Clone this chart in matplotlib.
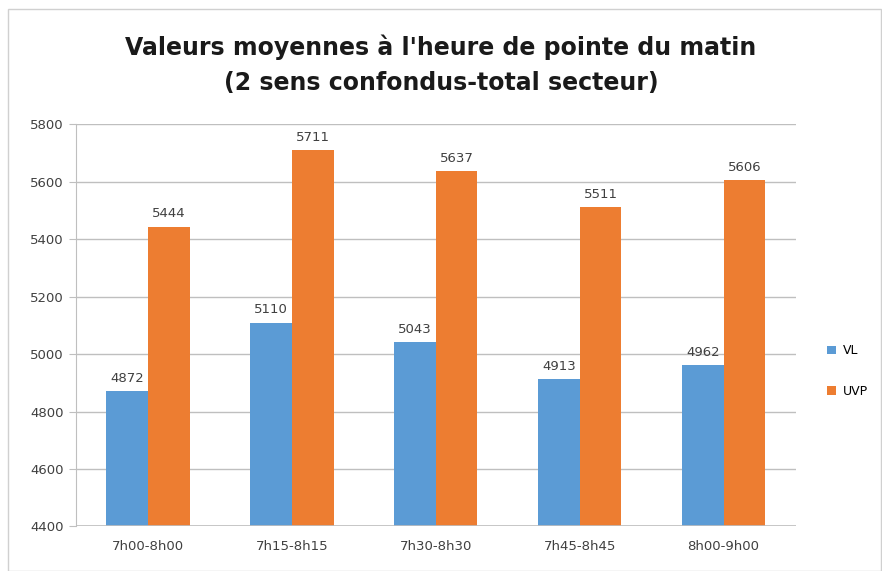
import numpy as np
import matplotlib.pyplot as plt
from matplotlib.patches import Rectangle

categories = ['7h00-8h00', '7h15-8h15', '7h30-8h30', '7h45-8h45', '8h00-9h00']
vl = [4872, 5110, 5043, 4913, 4962]
uvp = [5444, 5711, 5637, 5511, 5606]

blue = '#5B9BD5'
orange = '#ED7D31'

fig = plt.figure(figsize=(8.82, 5.71), dpi=100)
fig.patches.append(Rectangle((0.009, 0.0), 0.99, 0.985, transform=fig.transFigure,
                             fill=False, edgecolor='#d0d0d0', lw=1.0))

ax = fig.add_axes([0.086, 0.078, 0.816, 0.704])

x = np.arange(len(categories))
w = 0.29
b1 = ax.bar(x - w/2, vl, w, color=blue, label='VL')
b2 = ax.bar(x + w/2, uvp, w, color=orange, label='UVP')

for bars, vals in ((b1, vl), (b2, uvp)):
    for r, v in zip(bars, vals):
        ax.text(r.get_x() + r.get_width()/2, v + 22, str(v), ha='center', va='bottom',
                fontsize=9.5, color='#404040')

ax.set_ylim(4400, 5800)
ax.set_yticks(np.arange(4400, 5801, 200))
ax.set_xlim(-0.5, 4.5)
ax.set_xticks(x)
ax.set_xticklabels(categories)
ax.yaxis.grid(True, color='#bfbfbf', lw=1)
ax.set_axisbelow(True)
for s in ('top', 'right', 'bottom'):
    ax.spines[s].set_visible(False)
ax.spines['left'].set_color('#bfbfbf')
ax.axhline(4400, color='#bfbfbf', lw=1.2)
ax.tick_params(axis='y', length=5, color='#bfbfbf', labelsize=9.5, labelcolor='#404040')
ax.tick_params(axis='x', length=0, labelsize=9.5, labelcolor='#404040', pad=10)

fig.suptitle("Valeurs moyennes à l'heure de pointe du matin\n(2 sens confondus-total secteur)",
             x=0.5, y=0.94, fontsize=17, fontweight='bold', color='#1a1a1a', linespacing=1.6)

fig.legend(handles=[b1, b2], labels=['VL', 'UVP'], loc='center left',
           bbox_to_anchor=(0.925, 0.35), frameon=False, fontsize=9, handlelength=0.7,
           handleheight=0.7, labelspacing=2.2, handletextpad=0.6)

fig.savefig('out.png', dpi=100)
